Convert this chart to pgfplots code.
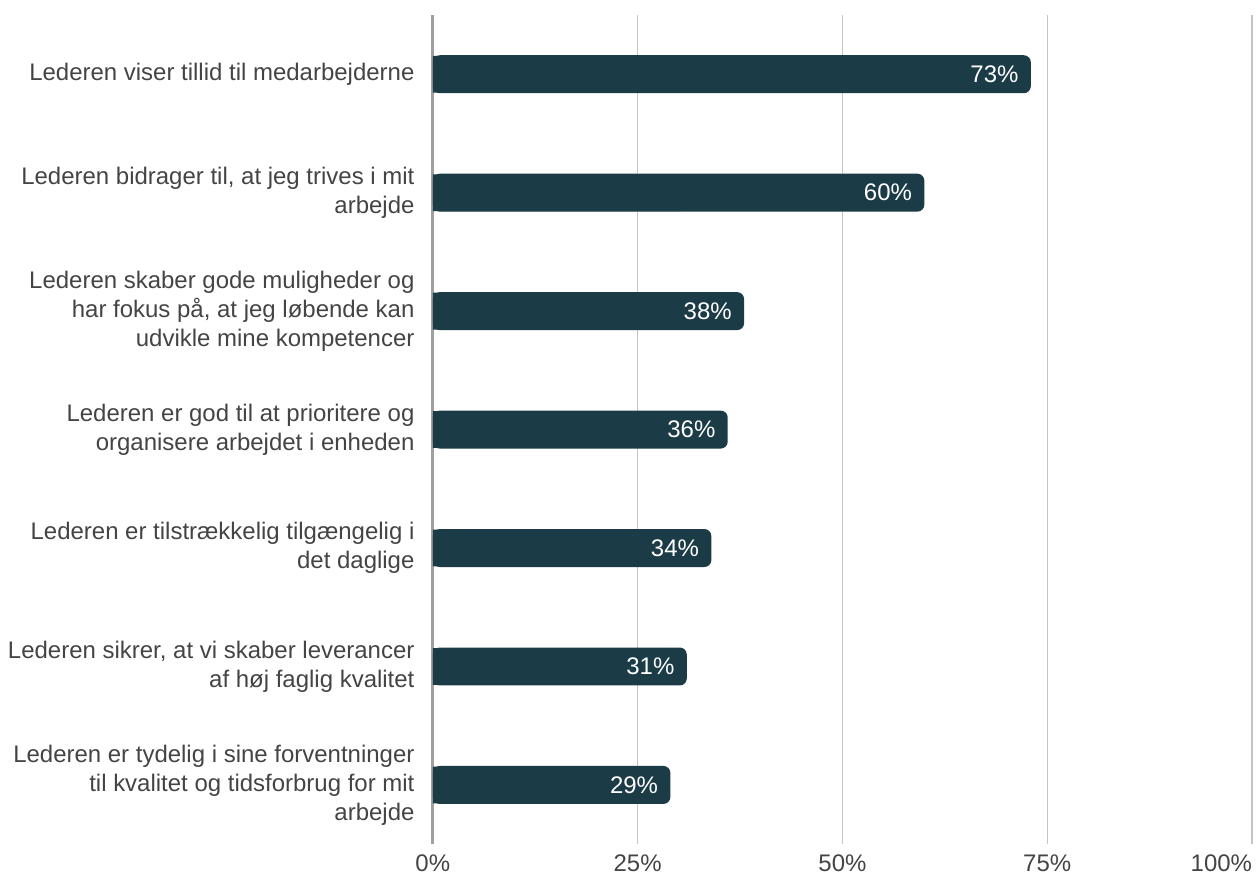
\documentclass[border=0pt]{standalone}
\usepackage{pgfplots}
\usepackage{pgfplotstable}
\pgfplotsset{compat=1.18}
\usepackage{fontspec}
\setmainfont{Liberation Sans}
\definecolor{barc}{HTML}{1B3B47}
\definecolor{txt}{HTML}{444444}
\definecolor{gridc}{HTML}{C4C4C4}
\definecolor{zeroc}{HTML}{A0A0A0}
\pgfplotstableread{
y v
0 73
1 60
2 38
3 36
4 34
5 31
6 29
}\data
\begin{document}
\fontsize{12}{14.5}\selectfont
\begin{tikzpicture}
\begin{axis}[
  name=ax,
  scale only axis,
  width=410pt, height=415pt,
  xmin=0, xmax=100, ymin=-0.5, ymax=6.5,
  y dir=reverse,
  /pgf/number format/assume math mode=true,
  axis line style={draw=none},
  major tick length=0pt,
  xtick={0,25,50,75,100},
  xticklabels={0\%,25\%,50\%,75\%,{\makebox[0pt][r]{100\%}\hspace{-1.5pt}}},
  xticklabel style={text=txt, font=\fontsize{12}{14.5}\selectfont, yshift=-1pt},
  xmajorgrids,
  grid style={gridc, line width=0.6pt},
  extra x ticks={0},
  extra x tick labels={},
  extra x tick style={grid style={zeroc, line width=1.4pt}},
  ytick={0,...,6},
  yticklabels={
    {Lederen viser tillid til medarbejderne},
    {Lederen bidrager til, at jeg trives i mit\\arbejde},
    {Lederen skaber gode muligheder og\\har fokus på, at jeg løbende kan\\udvikle mine kompetencer},
    {Lederen er god til at prioritere og\\organisere arbejdet i enheden},
    {Lederen er tilstrækkelig tilgængelig i\\det daglige},
    {Lederen sikrer, at vi skaber leverancer\\af høj faglig kvalitet},
    {Lederen er tydelig i sine forventninger\\til kvalitet og tidsforbrug for mit\\arbejde}
  },
  yticklabel style={align=right, text=txt, font=\fontsize{12}{14.5}\selectfont, xshift=-5pt},
  xbar, bar width=19pt, bar shift=0pt,
  clip=false,
]
\addplot[draw=none, fill=barc, bar width=18.4pt] table[x expr=\thisrow{v}/2, y=y] {\data};
\addplot[draw=none, fill=barc, rounded corners=3.5pt, point meta=x,
  nodes near coords={\pgfmathprintnumber{\pgfplotspointmeta}\%},
  nodes near coords style={anchor=east, text=white, xshift=-2pt,
    font=\fontsize{12}{14.5}\selectfont}]
  table[x=v, y=y] {\data};
\end{axis}
\path ([xshift=-216pt,yshift=-17pt]ax.south west) rectangle ([xshift=4pt,yshift=7.5pt]ax.north east);
\end{tikzpicture}
\end{document}
